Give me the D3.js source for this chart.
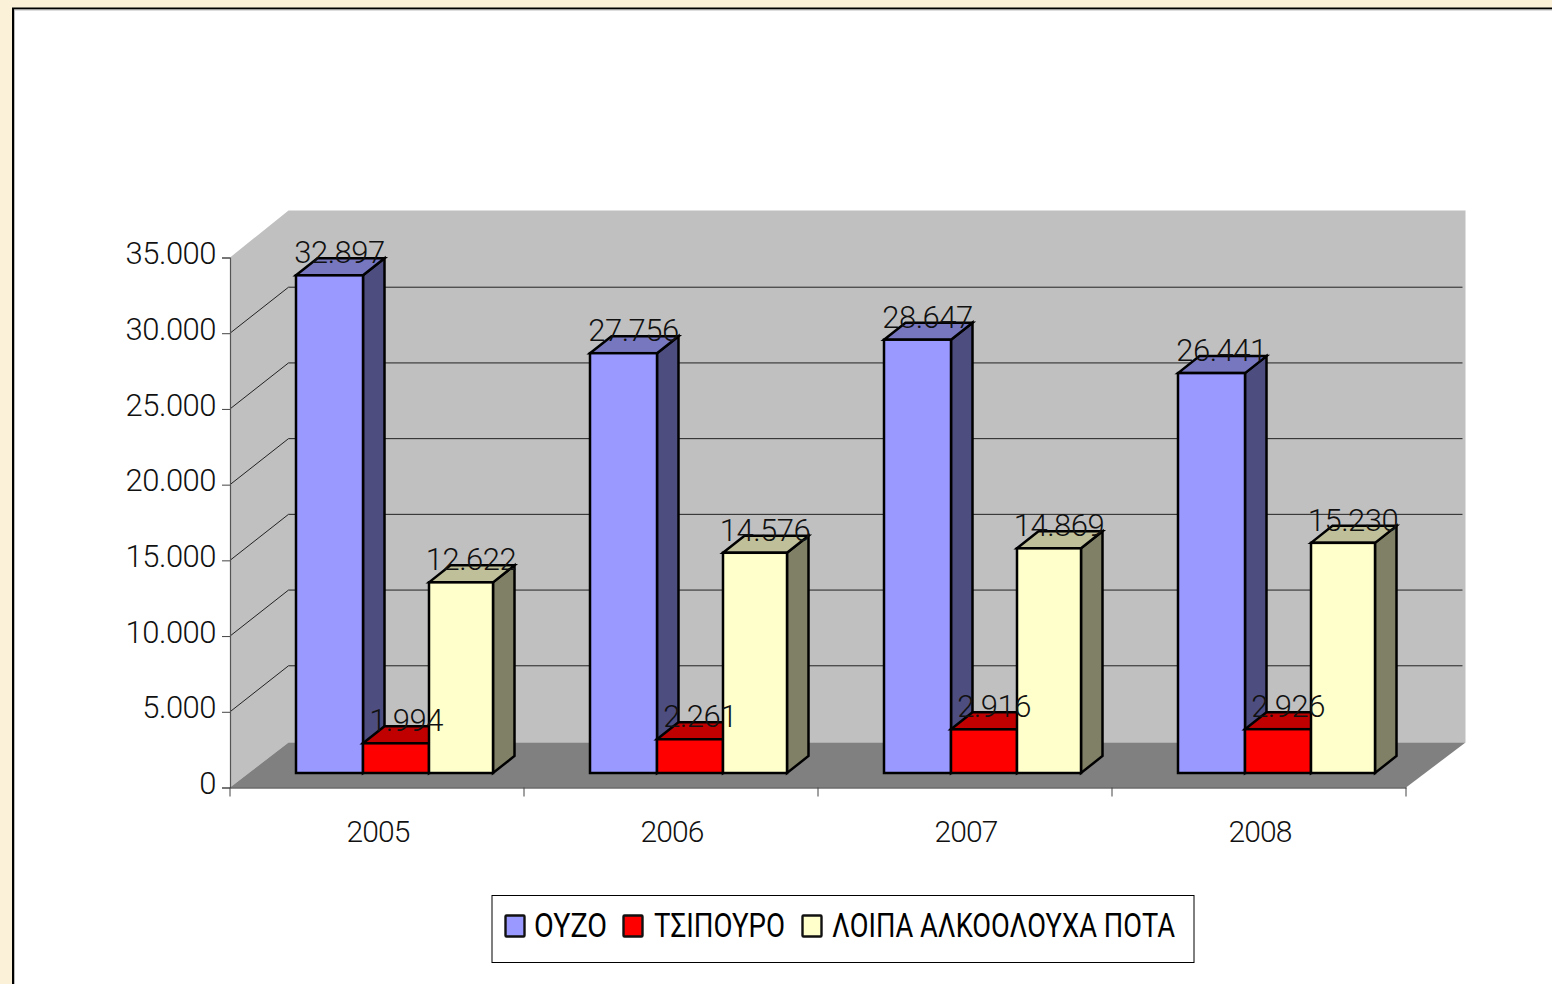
<!DOCTYPE html>
<html><head><meta charset="utf-8">
<script src="https://cdn.jsdelivr.net/npm/d3@7/dist/d3.min.js"></script>
<style>html,body{margin:0;padding:0;background:#FBF0D8;overflow:hidden}svg{display:block}</style>
</head><body><svg id="c" width="1552" height="984"></svg>
<script>
const years=["2005","2006","2007","2008"];
const seriesNames=["ΟΥΖΟ","ΤΣΙΠΟΥΡΟ","ΛΟΙΠΑ ΑΛΚΟΟΛΟΥΧΑ ΠΟΤΑ"];
const ouzo=[32897,27756,28647,26441];
const tsipouro=[1994,2261,2916,2926];
const others=[12622,14576,14869,15230];
const yTicks=[0,5000,10000,15000,20000,25000,30000,35000];
const seriesValues=[ouzo,tsipouro,others];
const frontColors=["#9999FF","#FF0000","#FFFFCC"];
const topColors=["#7777BF","#C00000","#BFBF99"];
const sideColors=["#4D4D80","#800000","#808066"];

const FONT='Roboto, "Noto Sans", sans-serif';
const svg=d3.select("#c");
const fmt=d3.formatLocale({decimal:",",thousands:".",grouping:[3],currency:["",""]}).format(",d");

// page background + frame
svg.append("rect").attr("x",13).attr("y",8.5).attr("width",1560).attr("height",1000).attr("fill","#fff").attr("stroke","#000").attr("stroke-width",2);
svg.append("path").attr("d","M14.5,990V10H1552").attr("fill","none").attr("stroke","#bbb").attr("stroke-width",1);

const x=d3.scaleBand().domain(years).range([230,1406]);
const y=d3.scaleLinear().domain([0,35000]).range([787.5,257.5]);
const depth={x:58.5,y:45};
const barDepth={x:21.5,y:17};
const barShift={x:66,y:14};
const slot=d3.scaleOrdinal().domain(seriesNames).range([0,67,133]);
const slotEnd=d3.scaleOrdinal().domain(seriesNames).range([67,133,197]);
const poly=p=>p.map(a=>a.join(",")).join(" ");

// walls
const [x0,x1]=x.range();
const y0=y(0),yT=y(35000);
svg.append("polygon").attr("fill","#C0C0C0").attr("points",poly([[x0,y0],[x0,yT],[x0+depth.x,yT-depth.y-2],[x1+depth.x+1,yT-depth.y-2],[x1+depth.x+1,y0-depth.y],[x0+depth.x,y0-depth.y]]));
// floor
svg.append("polygon").attr("fill","#808080").attr("points",poly([[x0,y0],[x0+depth.x,y0-depth.y],[x1+depth.x+1,y0-depth.y],[x1,y0]]));
// grid
const grid=svg.append("g").attr("fill","none").attr("stroke","#222").attr("stroke-width",1);
yTicks.filter(t=>t>0&&t<35000).forEach(t=>{
  grid.append("polyline").attr("points",poly([[x0,y(t)],[x0+depth.x,y(t)-depth.y-1],[x1+depth.x-2,y(t)-depth.y-1]]));
});

// axes
const ya=svg.append("g").attr("transform",`translate(${x0},0)`).call(d3.axisLeft(y).tickValues(yTicks).tickSize(8).tickPadding(6).tickFormat(fmt));
const xa=svg.append("g").attr("transform",`translate(1,${y0})`).call(d3.axisBottom(x).tickSize(0).tickPadding(33));
xa.selectAll(".domain").attr("stroke","#222").attr("stroke-width",1.2).attr("transform","translate(-1,0)");
ya.selectAll(".domain").attr("stroke","#555").attr("stroke-width",1.2);
ya.selectAll(".tick line").attr("stroke","#444");
const edges=[...years.map(d=>x(d)),x1];
svg.append("g").selectAll("line").data(edges).join("line").attr("x1",d=>d).attr("x2",d=>d).attr("y1",y0).attr("y2",y0+9).attr("stroke","#444").attr("stroke-width",1);
ya.selectAll("text").attr("font-family",FONT).attr("font-size",31).attr("font-weight",300).attr("letter-spacing",-0.5).attr("fill","#111").attr("dy","0.2em");
xa.selectAll("text").attr("font-family",FONT).attr("font-size",30).attr("font-weight",300).attr("letter-spacing",-0.9).attr("fill","#111");

// bars
const bars=svg.append("g").attr("stroke","#000").attr("stroke-width",2.5).attr("stroke-linejoin","miter");
const base=y0-barShift.y-0.5;
years.forEach((yr,i)=>{
  seriesNames.forEach((s,j)=>{
    const v=seriesValues[j][i];
    const l=x(yr)+barShift.x+slot(s), r=x(yr)+barShift.x+slotEnd(s), t=y(v)-barShift.y;
    const d=barDepth;
    bars.append("polygon").attr("fill",sideColors[j]).attr("points",poly([[r,base],[r,t],[r+d.x,t-d.y],[r+d.x,base-d.y]]));
    bars.append("polygon").attr("fill",topColors[j]).attr("points",poly([[l,t],[l+d.x,t-d.y],[r+d.x,t-d.y],[r,t]]));
    bars.append("rect").attr("fill",frontColors[j]).attr("x",l).attr("y",t).attr("width",r-l).attr("height",base-t);
  });
});
// value labels
const labels=svg.append("g").attr("font-family",FONT).attr("font-size",31).attr("font-weight",300).attr("letter-spacing",-0.5).attr("fill","#111").attr("text-anchor","middle");
years.forEach((yr,i)=>{
  seriesNames.forEach((s,j)=>{
    const v=seriesValues[j][i];
    const l=x(yr)+barShift.x+slot(s), r=x(yr)+barShift.x+slotEnd(s), t=y(v)-barShift.y;
    labels.append("text").attr("x",(l+r)/2+10).attr("y",t-12).text(fmt(v));
  });
});

// legend
const lg=svg.append("g");
lg.append("rect").attr("x",492).attr("y",895.5).attr("width",702).attr("height",67).attr("fill","#fff").attr("stroke","#000").attr("stroke-width",1);
const swatchX=[505.5,623.5,802.5], textX=[534,654,832], textW=[73,131,343];
seriesNames.forEach((s,j)=>{
  lg.append("rect").attr("x",swatchX[j]).attr("y",915.5).attr("width",19).attr("height",21).attr("fill",frontColors[j]).attr("stroke","#111").attr("stroke-width",2.4).attr("rx",1);
  lg.append("text").attr("x",textX[j]).attr("y",937).attr("font-family",FONT).attr("font-size",33).attr("font-weight",400).attr("fill","#000")
    .attr("textLength",textW[j]).attr("lengthAdjust","spacingAndGlyphs").text(s);
});
</script></body></html>
